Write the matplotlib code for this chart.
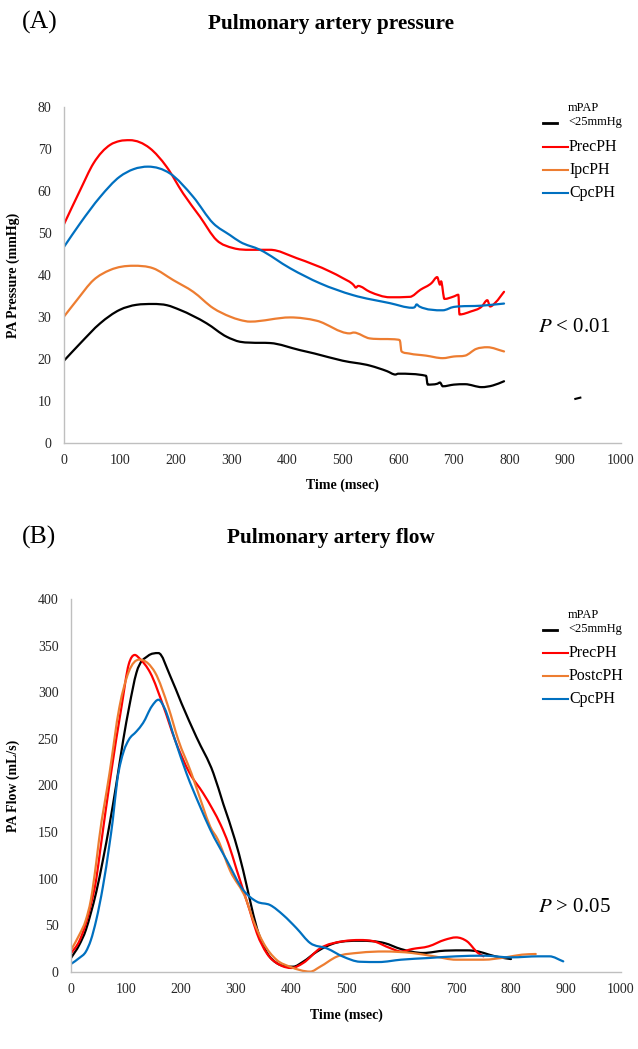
import matplotlib
matplotlib.use('Agg')
from matplotlib import pyplot as plt
from matplotlib.lines import Line2D
from matplotlib.path import Path
from matplotlib.patches import PathPatch
import numpy as np

plt.rcParams['font.family'] = ['Liberation Serif', 'DejaVu Serif']
plt.rcParams['mathtext.fontset'] = 'stix'

# ---- Panel A: pulmonary artery pressure (mmHg) ----
t_normal_p = [0, 29, 65, 100, 130, 160, 185, 208, 256, 292, 316, 334, 370, 424, 450, 500,
              550, 580, 595, 600, 650, 653, 670, 675, 680, 700, 720, 750, 770, 790]
p_normal = [19.6, 23.7, 28.5, 31.7, 32.9, 33.1, 32.8, 31.7, 28.5, 25.3, 24.1, 23.9, 23.8, 22.1, 21.3, 19.6,
            18.4, 17.1, 16.3, 16.5, 16.0, 13.9, 14.1, 14.4, 13.5, 13.9, 14.0, 13.3, 13.7, 14.7]

t_prec_p = [0, 29, 53, 83, 100, 118, 154, 184, 214, 244, 274, 304, 334, 370, 418, 478, 500,
            520, 524, 528, 549, 585, 621, 640, 660, 670, 675, 677, 683, 700, 708, 710,
            730, 750, 760, 765, 775, 790]
p_prec = [52.1, 60.2, 66.6, 71.0, 71.9, 72.1, 70.2, 65.8, 59.4, 53.9, 48.3, 46.4, 46.0, 46.0, 44.0, 40.8, 39.3,
          37.6, 37.0, 37.4, 36.0, 34.7, 34.8, 36.5, 38.1, 39.5, 37.7, 38.5, 34.3, 34.9, 35.3, 30.6,
          31.3, 32.5, 34.0, 32.5, 33.5, 36.0]

t_ipc_p = [0, 23, 53, 83, 124, 160, 196, 232, 268, 298, 316, 334, 406, 454, 513, 520,
           549, 600, 603, 606, 620, 650, 680, 700, 720, 740, 760, 790]
p_ipc = [30.1, 34.0, 38.8, 41.2, 42.2, 41.6, 38.8, 36.0, 32.1, 30.1, 29.3, 28.9, 29.9, 29.1, 26.1, 26.3,
         24.9, 24.6, 24.4, 21.8, 21.3, 20.8, 20.2, 20.6, 20.8, 22.4, 22.8, 21.8]

t_cpc_p = [0, 29, 65, 100, 125, 151, 190, 232, 268, 298, 316, 352, 406, 460, 519,
           585, 625, 630, 633, 638, 680, 700, 750, 790]
p_cpc = [46.7, 52.3, 58.6, 63.4, 65.2, 65.8, 64.2, 58.6, 52.3, 49.5, 47.9, 46.0, 41.6, 38.0, 35.2,
         33.3, 32.2, 32.4, 33.0, 32.5, 31.6, 32.4, 32.7, 33.2]

stray_t = [918, 927]
stray_p = [10.5, 10.8]

# ---- Panel B: pulmonary artery flow (mL/s) ----
t_normal_f = [0, 15, 27, 36, 46, 58, 70, 82, 95, 106, 119, 140, 159, 180, 201, 228, 259, 277, 298,
              313, 325, 338, 356, 374, 404, 422, 447, 483, 525, 570, 600, 640, 680, 720, 740, 760, 780, 800]
f_normal = [15, 29, 45, 63, 86, 120, 158, 200, 249, 285, 321, 339, 342, 318, 288, 252, 213, 180, 142,
            109, 78, 47, 21, 9.6, 5.7, 11, 21.8, 31.5, 33.5, 31, 24.6, 20.4, 22.9, 23.2, 22.1, 18.6, 15.7, 13.9]

t_prec_f = [0, 15, 27, 36, 46, 53, 72, 92, 105, 116, 125, 144, 168, 189, 216, 240, 258, 272, 286,
            301, 325, 338, 356, 380, 401, 422, 453, 495, 525, 550, 580, 600, 620, 650, 680, 700, 720, 740, 750]
f_prec = [20, 33, 52, 72, 100, 130, 210, 285, 330, 340, 336, 321, 285, 249, 213, 192, 174, 158, 138,
          110, 66, 41.5, 20, 7.5, 4.3, 9.6, 25.4, 33, 34.3, 33, 25.7, 22, 24.6, 27.5, 34.6, 37.1, 32.9, 20.4, 16.8]

t_postc_f = [0, 15, 27, 36, 46, 51, 70, 88, 105, 124, 140, 153, 177, 195, 219, 240, 253, 267,
             289, 319, 331, 350, 374, 398, 435, 453, 483, 525, 570, 620, 660, 700, 750, 790, 820, 845]
f_postc = [23.6, 39.7, 55.8, 77, 118, 142, 213, 284, 322, 335, 331, 321, 284, 249, 213, 177, 156, 142,
           109, 77, 56, 31, 12.9, 5.7, 0.4, 5.7, 16.4, 20.7, 22, 20.4, 16.8, 13.2, 13.2, 15.7, 18.6, 19.3]

t_cpc_f = [0, 15, 27, 36, 46, 58, 70, 76, 84, 96, 105, 119, 131, 147, 159, 170, 189, 210, 235, 253,
           283, 313, 338, 362, 386, 410, 435, 465, 495, 525, 560, 600, 650, 700, 750, 800, 850, 870, 895]
f_cpc = [8.6, 15, 21.8, 34, 56, 91.5, 137, 163, 205, 237, 249, 258, 267, 285, 292, 283, 249, 213, 177, 153,
         120, 88, 75.4, 71.8, 61, 47, 31, 25.4, 16.4, 11, 10.7, 13.2, 15, 16.8, 17.5, 15.7, 16.8, 16.8, 11.4]

colors = ['black', '#FF0000', '#ED7D31', '#0070C0']
labels_a = ['mPAP\n<25mmHg', 'PrecPH', 'IpcPH', 'CpcPH']
labels_b = ['mPAP\n<25mmHg', 'PrecPH', 'PostcPH', 'CpcPH']

W, H = 638, 1049
fig = plt.figure(figsize=(W / 100, H / 100), dpi=100)


def px_axes(left, top, right, bottom):
    return fig.add_axes([left / W, 1 - bottom / H, (right - left) / W, (bottom - top) / H])


def smooth_line(ax, x, y, color, lw=1.6):
    # smoothed line as cubic Bezier segments through the points;
    # centred slopes, clamped so steps and minima don't overshoot
    x = np.asarray(x, float)
    y = np.asarray(y, float)
    h = np.diff(x)
    d = np.diff(y) / h
    m = np.zeros_like(y)
    m[0], m[-1] = d[0], d[-1]
    for i in range(1, len(y) - 1):
        if d[i - 1] * d[i] > 0:
            mc = (d[i - 1] * h[i] + d[i] * h[i - 1]) / (h[i - 1] + h[i])
            lim = 3 * min(abs(d[i - 1]), abs(d[i]))
            m[i] = np.sign(mc) * min(abs(mc), lim)
    verts = [(x[0], y[0])]
    codes = [Path.MOVETO]
    for i in range(len(x) - 1):
        verts += [(x[i] + h[i] / 3, y[i] + m[i] * h[i] / 3),
                  (x[i + 1] - h[i] / 3, y[i + 1] - m[i + 1] * h[i] / 3),
                  (x[i + 1], y[i + 1])]
        codes += [Path.CURVE4] * 3
    ax.add_patch(PathPatch(Path(verts, codes), fill=False, edgecolor=color, lw=lw,
                           capstyle='round', joinstyle='round'))


def style_axes(ax, ymax, ystep, ylabel, ylab_x):
    ax.set_xlim(0, 1000)
    ax.set_ylim(0, ymax)
    ax.set_xticks(range(0, 1001, 100))
    ax.set_yticks(range(0, ymax + 1, ystep))
    for s in ['top', 'right']:
        ax.spines[s].set_visible(False)
    for s in ['left', 'bottom']:
        ax.spines[s].set_color('#BFBFBF')
        ax.spines[s].set_linewidth(1.0)
    ax.tick_params(length=0, labelsize=10, colors='#262626')
    ax.tick_params(axis='y', pad=9)
    ax.tick_params(axis='x', pad=8)
    ax.set_xlabel('Time (msec)', fontsize=10, fontweight='bold')
    ax.set_ylabel(ylabel, fontsize=10, fontweight='bold')
    ax.yaxis.set_label_coords(ylab_x, 0.5)
    ax.patch.set_alpha(0)


def draw_legend(labels, y_first, y_rows):
    # manual Excel-like legend: short line + label
    for i, (lab, col) in enumerate(zip(labels, colors)):
        if i == 0:
            fig.add_artist(Line2D([543 / W, 557 / W], [1 - y_first / H] * 2, color=col, lw=2))
            fig.text(568 / W, 1 - (y_first - 8) / H, lab, fontsize=9, va='center', ha='left',
                     linespacing=1.2)
        else:
            y = y_rows[i - 1]
            fig.add_artist(Line2D([543 / W, 568 / W], [1 - y / H] * 2, color=col, lw=1.5))
            fig.text(569 / W, 1 - y / H, lab, fontsize=11.5, va='center', ha='left')


# ---- Panel A ----
axA = px_axes(64, 107, 621, 443)
smooth_line(axA, t_normal_p, p_normal, colors[0])
smooth_line(axA, t_prec_p, p_prec, colors[1])
smooth_line(axA, t_ipc_p, p_ipc, colors[2])
smooth_line(axA, t_cpc_p, p_cpc, colors[3])
axA.plot(stray_t, stray_p, color='black', lw=1.5)
style_axes(axA, 80, 10, 'PA Pressure (mmHg)', -0.079)
axA.xaxis.set_label_coords(0.5, -0.105)
fig.text(22 / W, 1 - 22 / H, '(A)', fontsize=18.5, va='center', ha='left')
fig.text(331 / W, 1 - 24 / H, 'Pulmonary artery pressure', fontsize=15.3, fontweight='bold',
         va='center', ha='center')
fig.text(538 / W, 1 - 327 / H, '$P$ < 0.01', fontsize=15, va='center', ha='left')
draw_legend(labels_a, 123, [147, 170, 193])

# ---- Panel B ----
axB = px_axes(71, 599, 621, 972)
smooth_line(axB, t_normal_f, f_normal, colors[0])
smooth_line(axB, t_prec_f, f_prec, colors[1])
smooth_line(axB, t_postc_f, f_postc, colors[2])
smooth_line(axB, t_cpc_f, f_cpc, colors[3])
style_axes(axB, 400, 50, 'PA Flow (mL/s)', -0.093)
axB.xaxis.set_label_coords(0.5, -0.098)
fig.text(22 / W, 1 - 537 / H, '(B)', fontsize=18.5, va='center', ha='left')
fig.text(331 / W, 1 - 538 / H, 'Pulmonary artery flow', fontsize=15.3, fontweight='bold',
         va='center', ha='center')
fig.text(538 / W, 1 - 907 / H, '$P$ > 0.05', fontsize=15, va='center', ha='left')
draw_legend(labels_b, 630, [653, 676, 699])

fig.savefig('out.png', dpi=100)
